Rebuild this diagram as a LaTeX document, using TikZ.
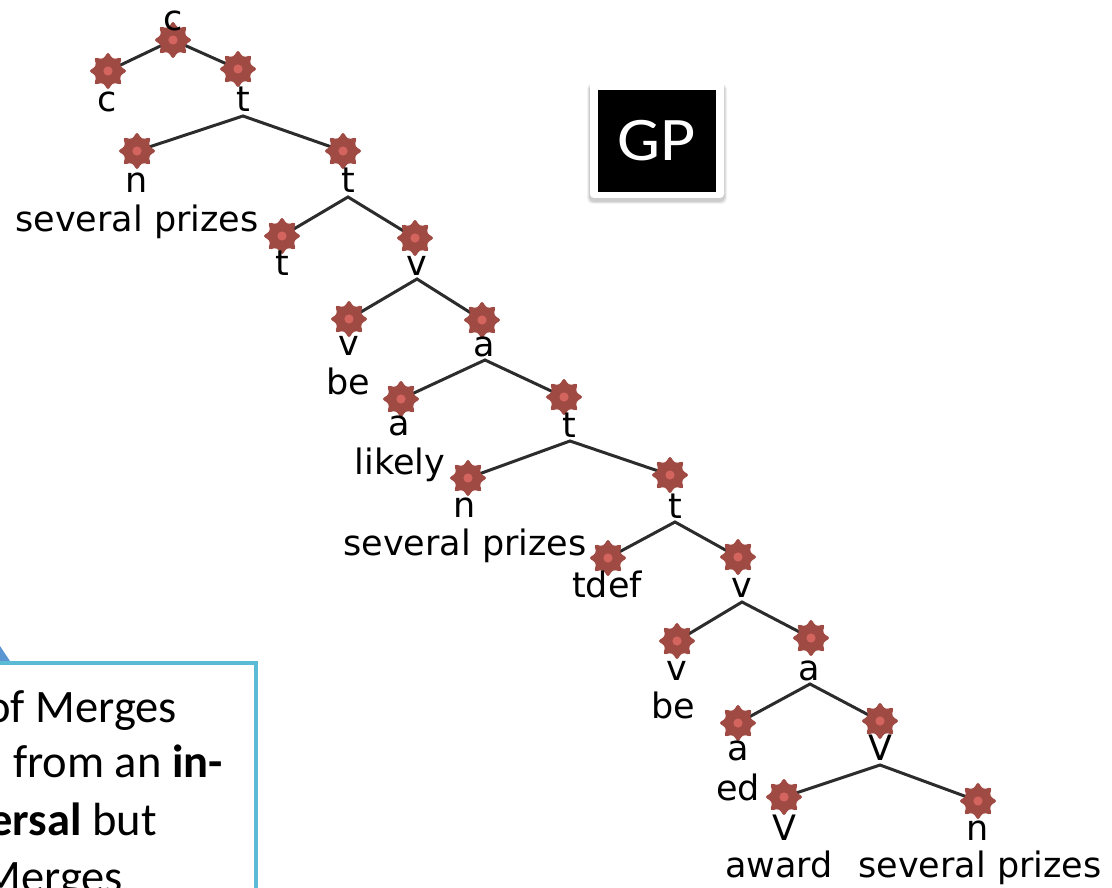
\documentclass[tikz,border=0pt]{standalone}
\usepackage{fontspec}
\setmainfont{DejaVu Sans}
\newfontfamily\calibri{Carlito}
\usetikzlibrary{backgrounds}

\definecolor{petal}{HTML}{A04A44}
\definecolor{petaldot}{HTML}{D4645E}
\definecolor{branch}{HTML}{2C2C2C}
\definecolor{calloutline}{HTML}{5BBAD4}
\definecolor{callouttip}{HTML}{5A96D2}

\tikzset{
  % eight-petal flower marker drawn inside an invisible circular node
  flower/.style={circle, minimum size=44pt, inner sep=0pt,
    path picture={
      \fill[petal, rounded corners=3.4pt, shift={(path picture bounding box.center)}]
        (90:19.8) \foreach \i in {1,...,15}{ -- ({90+22.5*\i}:{ifthenelse(mod(\i,2)==1,12.4,19.8)}) } -- cycle;
      \fill[petaldot] (path picture bounding box.center) circle (4.6pt);}},
  lbl/.style={anchor=base, inner sep=0pt, font=\fontsize{35}{40}\selectfont},
  branchline/.style={draw=branch, line width=3pt},
  ctext/.style={anchor=base east, inner sep=0pt, font=\calibri\fontsize{46.5}{56}\selectfont},
}

\begin{document}
\begin{tikzpicture}[x=1pt, y=-1pt]
\useasboundingbox (0,0) rectangle (1112,888);
\clip (0,0) rectangle (1112,888);

% ---- derivation tree: flower markers ----
\node[flower] (s-c0) at (173,40) {};
\node[flower] (s-c1) at (108,71) {};
\node[flower] (s-t1) at (238,69) {};
\node[flower] (s-n1) at (137,151) {};
\node[flower] (s-t2) at (343,151) {};
\node[flower] (s-t3) at (282,236) {};
\node[flower] (s-v1) at (415,238) {};
\node[flower] (s-v2) at (349,319) {};
\node[flower] (s-a1) at (482,320) {};
\node[flower] (s-a2) at (401,399) {};
\node[flower] (s-t4) at (564,397) {};
\node[flower] (s-n2) at (468,478) {};
\node[flower] (s-t5) at (670,475) {};
\node[flower] (s-td) at (608,558) {};
\node[flower] (s-v3) at (738,557) {};
\node[flower] (s-v4) at (677,641) {};
\node[flower] (s-a3) at (811,638) {};
\node[flower] (s-a4) at (738,723) {};
\node[flower] (s-V1) at (880,721) {};
\node[flower] (s-V2) at (784,797) {};
\node[flower] (s-n3) at (978,801) {};

% ---- category labels and words ----
\node[lbl] (l-c0) at (173,31) {c};
\node[lbl] (l-c1) at (107,112) {c};
\node[lbl] (l-t1) at (243,112) {t};
\node[lbl] (l-n1) at (137,193) {n};
\node[lbl] (w-n1) at (137,232) {several prizes};
\node[lbl] (l-t2) at (348,193) {t};
\node[lbl] (l-t3) at (282,275) {t};
\node[lbl] (l-v1) at (417,275) {v};
\node[lbl] (l-v2) at (349,355) {v};
\node[lbl] (w-v2) at (348,394) {be};
\node[lbl] (l-a1) at (484,356) {a};
\node[lbl] (l-a2) at (399,435) {a};
\node[lbl] (w-a2) at (400,474) {likely};
\node[lbl] (l-t4) at (569,437) {t};
\node[lbl] (l-n2) at (465,517) {n};
\node[lbl] (w-n2) at (465,555) {several prizes};
\node[lbl] (l-t5) at (675,518) {t};
\node[lbl] (l-td) at (607,597) {tdef};
\node[lbl] (l-v3) at (742,597) {v};
\node[lbl] (l-v4) at (677,680) {v};
\node[lbl] (w-v4) at (673,718) {be};
\node[lbl] (l-a3) at (809,680) {a};
\node[lbl] (l-a4) at (738,760) {a};
\node[lbl] (w-a4) at (738,800) {ed};
\node[lbl] (l-V1) at (880,760) {V};
\node[lbl] (l-V2) at (784,840) {V};
\node[lbl] (w-V2) at (779,877) {award};
\node[lbl] (l-n3) at (978,840) {n};
\node[lbl] (w-n3) at (980,877) {several prizes};

% ---- branching points just under each inner label ----
\coordinate (b-t1) at (243,116);
\coordinate (b-t2) at (348,197);
\coordinate (b-v1) at (417,279);
\coordinate (b-a1) at (485,360);
\coordinate (b-t4) at (570,441);
\coordinate (b-t5) at (675,522);
\coordinate (b-v3) at (742,602);
\coordinate (b-a3) at (810,684);
\coordinate (b-V1) at (880,765);

% ---- branches, behind the markers ----
\begin{pgfonlayer}{background}
\draw[branchline] (s-c1.center) -- (s-c0.center) -- (s-t1.center);
\draw[branchline] (s-n1.center) -- (b-t1) -- (s-t2.center);
\draw[branchline] (s-t3.center) -- (b-t2) -- (s-v1.center);
\draw[branchline] (s-v2.center) -- (b-v1) -- (s-a1.center);
\draw[branchline] (s-a2.center) -- (b-a1) -- (s-t4.center);
\draw[branchline] (s-n2.center) -- (b-t4) -- (s-t5.center);
\draw[branchline] (s-td.center) -- (b-t5) -- (s-v3.center);
\draw[branchline] (s-v4.center) -- (b-v3) -- (s-a3.center);
\draw[branchline] (s-a4.center) -- (b-a3) -- (s-V1.center);
\draw[branchline] (s-V2.center) -- (b-V1) -- (s-n3.center);
\end{pgfonlayer}

% ---- GP badge with soft shadow ----
\foreach \k/\o in {6/0.05,4/0.07,2/0.09}{
  \fill[black, opacity=\o, rounded corners=5pt] (590-\k/2,84) rectangle (724+\k/2,201+\k/2);
}
\fill[white, rounded corners=4pt] (590,81) rectangle (724,198);
\node[fill=black, minimum width=118pt, minimum height=102pt, inner sep=0pt,
      text=white, font=\calibri\fontsize{62}{70}\selectfont] (gp) at (657,141) {\scalebox{1.1}[1]{GP}};

% ---- callout box at lower left ----
\fill[callouttip] (0,646) -- (12,664) -- (0,664) -- cycle;
\draw[draw=calloutline, fill=white, line width=4pt] (-10,663) rectangle (256,905);
\node[ctext] (m1) at (177,722) {of Merges};
\node[ctext] (m2) at (223,777) {from an \textbf{in-}};
\node[ctext] (m3) at (157,835) {\textbf{ersal} but};
\node[ctext] (m4) at (123,892) {Merges};
\end{tikzpicture}
\end{document}
